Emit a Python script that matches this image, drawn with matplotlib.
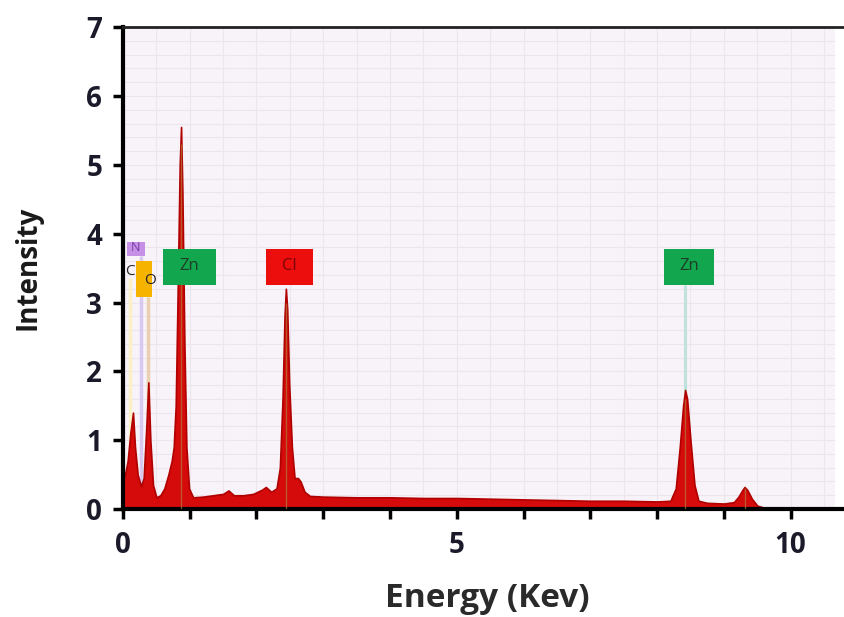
import numpy as np
import matplotlib
matplotlib.use("Agg")
import matplotlib.pyplot as plt
from matplotlib.patches import Rectangle

# EDX spectrum (keV, intensity)
energy = [0.0, 0.03, 0.07, 0.11, 0.15, 0.18, 0.22, 0.27, 0.31, 0.35, 0.38, 0.41, 0.45,
          0.5, 0.56, 0.62, 0.68, 0.73, 0.76, 0.79, 0.82, 0.85, 0.87, 0.89, 0.92, 0.95,
          0.99, 1.05, 1.2, 1.35, 1.5, 1.58, 1.66, 1.8, 1.95, 2.08, 2.14, 2.22, 2.3,
          2.35, 2.39, 2.42, 2.44, 2.46, 2.49, 2.53, 2.57, 2.62, 2.66, 2.72, 2.8, 3.0,
          3.5, 4.0, 4.5, 5.0, 5.5, 6.0, 6.5, 7.0, 7.5, 8.0, 8.2, 8.28, 8.34, 8.39,
          8.42, 8.45, 8.5, 8.56, 8.62, 8.75, 9.0, 9.15, 9.22, 9.28, 9.31, 9.35, 9.42,
          9.5, 9.6, 10.0, 10.8]
intensity = [0.45, 0.5, 0.7, 1.1, 1.4, 0.9, 0.5, 0.33, 0.45, 1.2, 1.84, 1.0, 0.35,
             0.17, 0.2, 0.3, 0.5, 0.7, 0.9, 1.5, 3.2, 5.0, 5.55, 4.6, 2.4, 0.9,
             0.3, 0.17, 0.18, 0.2, 0.22, 0.27, 0.2, 0.2, 0.22, 0.28, 0.32, 0.25, 0.3,
             0.6, 1.6, 2.8, 3.2, 2.9, 1.8, 0.9, 0.45, 0.45, 0.4, 0.25, 0.19, 0.18,
             0.17, 0.17, 0.16, 0.16, 0.15, 0.14, 0.13, 0.12, 0.12, 0.11, 0.12, 0.3, 0.9, 1.5,
             1.73, 1.6, 1.0, 0.35, 0.12, 0.09, 0.08, 0.1, 0.18, 0.28, 0.32, 0.28, 0.15,
             0.05, 0.02, 0.01, 0.0]

# element markers: label, box x-range, box y-range, colour
labels = ["N", "O", "Zn", "Cl", "Zn"]
label_x0 = [0.06, 0.19, 0.60, 2.14, 8.10]
label_x1 = [0.33, 0.43, 1.39, 2.84, 8.85]
label_y0 = [3.67, 3.08, 3.25, 3.25, 3.25]
label_y1 = [3.88, 3.60, 3.78, 3.78, 3.78]
label_colors = ["#c690e6", "#f6b400", "#12a64e", "#ec0d0d", "#12a64e"]
label_text_colors = ["#7a3aa8", "#222222", "#1d3f26", "#7a0505", "#1d3f26"]

plt.rcParams['font.family'] = ['Open Sans', 'DejaVu Sans']

fig = plt.figure(figsize=(8.44, 6.17), dpi=100)
ax = fig.add_axes([0.1457, 0.175, 0.8543, 0.781])

# pale grid background of the instrument window
ax.axvspan(0, 10.66, color="#f7f3f8", zorder=0, lw=0)
ax.hlines(np.arange(0.2, 7, 0.2), 0, 10.66, color="#ece5ee", lw=0.8, zorder=0.5)
ax.vlines(np.arange(0.5, 10.66, 0.5), 0, 7, color="#ece5ee", lw=0.8, zorder=0.5)

# faint element lines
ax.vlines(0.11, 0, 3.35, color="#fbf1c8", lw=2.5, zorder=1)
ax.vlines(0.27, 0, 3.67, color="#d9c8f0", lw=2.5, zorder=1)
ax.vlines(0.38, 0, 3.08, color="#e8d0b0", lw=2.5, zorder=1)
ax.vlines(8.42, 1.6, 3.25, color="#bfe2dc", lw=2.2, zorder=1)

ax.fill_between(energy, intensity, 0, color="#d50a0a", lw=1.2, edgecolor="#b00000", zorder=2)
# olive centre lines inside the peaks
ax.vlines([0.87, 2.44, 8.42, 9.31], 0, [5.3, 3.0, 1.6, 0.3], color="#b07a3a", lw=1.0, zorder=3, alpha=0.7)

for lab, x0, x1, y0, y1, c, tc in zip(labels, label_x0, label_x1, label_y0, label_y1,
                                      label_colors, label_text_colors):
    ax.add_patch(Rectangle((x0, y0), x1 - x0, y1 - y0, color=c, zorder=4, lw=0))
    if lab == "O":
        ax.text(0.4, 3.32, lab, ha="center", va="center", fontsize=11, color=tc, zorder=5)
    else:
        ax.text((x0 + x1) / 2, (y0 + y1) / 2 + 0.02, lab, ha="center", va="center",
                fontsize=9 if lab == "N" else 12, color=tc, zorder=5)
ax.text(0.1, 3.45, "C", ha="center", va="center", fontsize=11, color="#222222", zorder=5)

ax.set_xlim(0, 10.8)
ax.set_ylim(0, 7)
ax.set_xticks(range(0, 11))
ax.set_xticklabels(["0", "", "", "", "", "5", "", "", "", "", "10"])
ax.set_yticks(range(0, 8))
ax.tick_params(axis="both", direction="out", length=7, width=2.5, labelsize=20, color="black")
ax.tick_params(axis="x", pad=9)
ax.tick_params(axis="y", pad=8)
for t in ax.get_xticklabels() + ax.get_yticklabels():
    t.set_fontweight("bold")
    t.set_color("#1a1a2a")

for side in ["left", "bottom"]:
    ax.spines[side].set_linewidth(3)
ax.spines["top"].set_linewidth(2)
ax.spines["top"].set_color("#222222")
ax.spines["right"].set_visible(False)

fig.text(487 / 844, 1 - 607 / 617, "Energy (Kev)", ha="center", va="baseline",
         fontsize=24, fontweight="bold", color="#2a2a2a")
fig.text(28 / 844, 1 - 268 / 617, "Intensity", ha="center", va="center", rotation=90,
         fontsize=20, fontweight="bold", color="#1a1a1a")

fig.savefig("out.png", dpi=100)
